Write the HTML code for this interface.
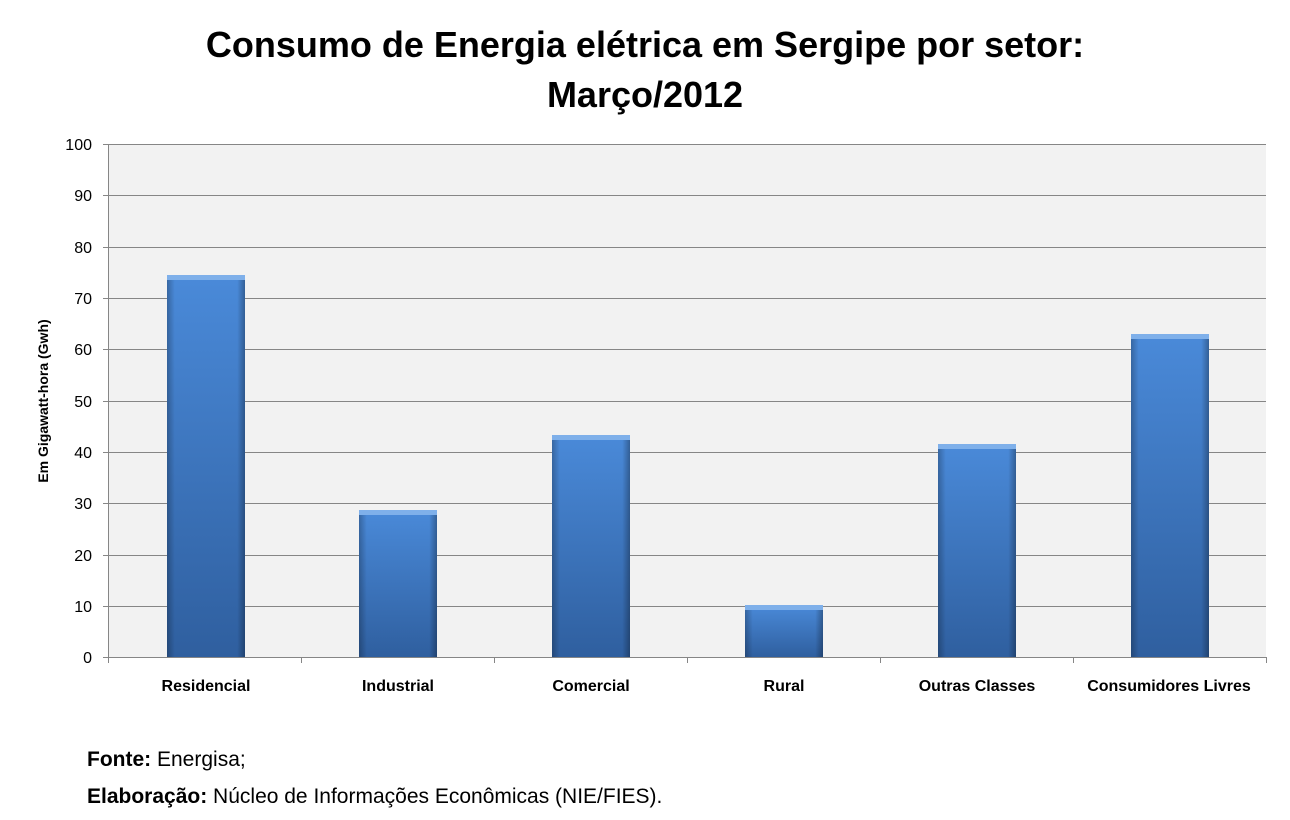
<!DOCTYPE html>
<html><head><meta charset="utf-8"><style>
body{margin:0;background:#fff;}
svg{display:block;font-family:"Liberation Sans",sans-serif;}
</style></head><body>
<svg width="1290" height="820" viewBox="0 0 1290 820" xmlns="http://www.w3.org/2000/svg">
<defs>
<linearGradient id="g" x1="0" y1="0" x2="0" y2="1">
<stop offset="0" stop-color="#4a8ad9"/><stop offset="1" stop-color="#2f5f9f"/>
</linearGradient>
<linearGradient id="h" x1="0" y1="0" x2="1" y2="0">
<stop offset="0" stop-color="#000" stop-opacity="0.25"/><stop offset="0.1" stop-color="#000" stop-opacity="0"/>
<stop offset="0.9" stop-color="#000" stop-opacity="0"/><stop offset="1" stop-color="#000" stop-opacity="0.3"/>
</linearGradient>
</defs>
<text x="645" y="57" text-anchor="middle" font-size="36" font-weight="bold" fill="#000">Consumo de Energia elétrica em Sergipe por setor:</text>
<text x="645" y="107" text-anchor="middle" font-size="36" font-weight="bold" fill="#000">Março/2012</text>
<rect x="108" y="144" width="1158" height="513" fill="#f2f2f2"/>
<g stroke="#868686" stroke-width="1">
<line x1="103" y1="144.5" x2="1266" y2="144.5"/>
<line x1="103" y1="195.5" x2="1266" y2="195.5"/>
<line x1="103" y1="247.5" x2="1266" y2="247.5"/>
<line x1="103" y1="298.5" x2="1266" y2="298.5"/>
<line x1="103" y1="349.5" x2="1266" y2="349.5"/>
<line x1="103" y1="401.5" x2="1266" y2="401.5"/>
<line x1="103" y1="452.5" x2="1266" y2="452.5"/>
<line x1="103" y1="503.5" x2="1266" y2="503.5"/>
<line x1="103" y1="555.5" x2="1266" y2="555.5"/>
<line x1="103" y1="606.5" x2="1266" y2="606.5"/>
<line x1="103" y1="657.5" x2="1266" y2="657.5"/>
<line x1="108.5" y1="144" x2="108.5" y2="663"/>
<line x1="301.5" y1="657" x2="301.5" y2="663"/>
<line x1="494.5" y1="657" x2="494.5" y2="663"/>
<line x1="687.5" y1="657" x2="687.5" y2="663"/>
<line x1="880.5" y1="657" x2="880.5" y2="663"/>
<line x1="1073.5" y1="657" x2="1073.5" y2="663"/>
<line x1="1266.5" y1="657" x2="1266.5" y2="663"/>
</g>
<g font-size="16" fill="#000" text-anchor="end">
<text x="92" y="150">100</text><text x="92" y="201">90</text><text x="92" y="253">80</text>
<text x="92" y="304">70</text><text x="92" y="355">60</text><text x="92" y="407">50</text>
<text x="92" y="458">40</text><text x="92" y="509">30</text><text x="92" y="561">20</text>
<text x="92" y="612">10</text><text x="92" y="663">0</text>
</g>
<text transform="translate(48,401) rotate(-90)" text-anchor="middle" font-size="14" font-weight="bold">Em Gigawatt-hora (Gwh)</text>
<g>
<rect x="167" y="275" width="78" height="382" fill="url(#g)"/><rect x="167" y="275" width="78" height="382" fill="url(#h)"/><rect x="167" y="275" width="78" height="5" fill="#7fb0ea"/>
<rect x="359" y="510" width="78" height="147" fill="url(#g)"/><rect x="359" y="510" width="78" height="147" fill="url(#h)"/><rect x="359" y="510" width="78" height="5" fill="#7fb0ea"/>
<rect x="552" y="435" width="78" height="222" fill="url(#g)"/><rect x="552" y="435" width="78" height="222" fill="url(#h)"/><rect x="552" y="435" width="78" height="5" fill="#7fb0ea"/>
<rect x="745" y="605" width="78" height="52" fill="url(#g)"/><rect x="745" y="605" width="78" height="52" fill="url(#h)"/><rect x="745" y="605" width="78" height="5" fill="#7fb0ea"/>
<rect x="938" y="444" width="78" height="213" fill="url(#g)"/><rect x="938" y="444" width="78" height="213" fill="url(#h)"/><rect x="938" y="444" width="78" height="5" fill="#7fb0ea"/>
<rect x="1131" y="334" width="78" height="323" fill="url(#g)"/><rect x="1131" y="334" width="78" height="323" fill="url(#h)"/><rect x="1131" y="334" width="78" height="5" fill="#7fb0ea"/>
</g>
<g font-size="16" font-weight="bold" text-anchor="middle">
<text x="206" y="691">Residencial</text><text x="398" y="691">Industrial</text>
<text x="591" y="691">Comercial</text><text x="784" y="691">Rural</text>
<text x="977" y="691">Outras Classes</text><text x="1169" y="691">Consumidores Livres</text>
</g>
<text x="87" y="766" font-size="21"><tspan font-weight="bold">Fonte:</tspan> Energisa;</text>
<text x="87" y="803" font-size="21"><tspan font-weight="bold">Elaboração:</tspan> Núcleo de Informações Econômicas (NIE/FIES).</text>
</svg>
</body></html>
